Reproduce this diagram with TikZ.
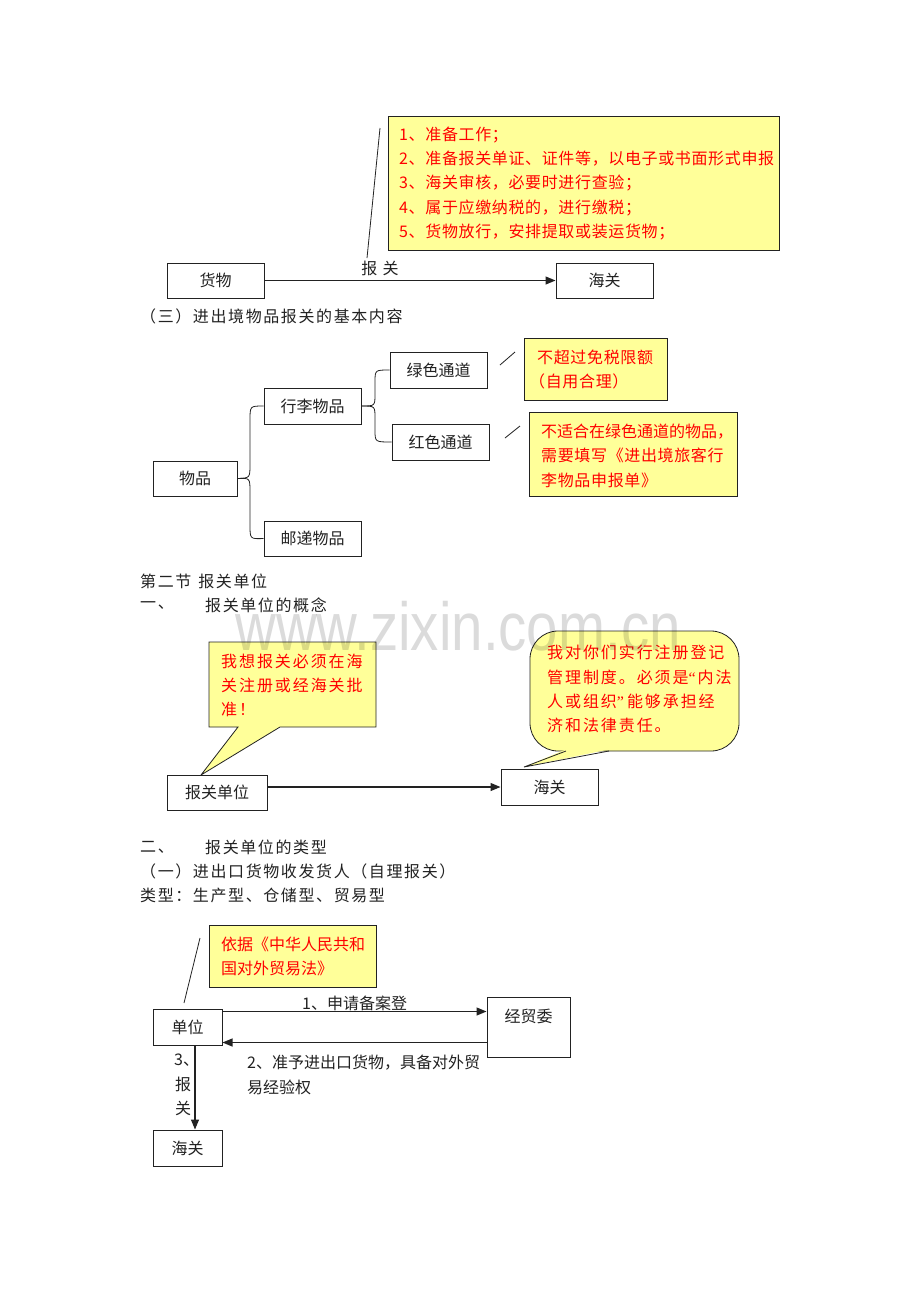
\documentclass[tikz,border=0pt]{standalone}
\usepackage{fontspec}
\setmainfont{Liberation Serif}
\newfontfamily\cjk{Noto Sans CJK SC}
\newfontfamily\cjkb{Noto Sans CJK SC}[LetterSpace=10]
\newfontfamily\cjkn{Noto Sans CJK SC}[LetterSpace=4]
\newfontfamily\cjkw{Noto Sans CJK SC}[LetterSpace=12]
\newfontfamily\qf{Liberation Serif}
\newfontfamily\wmfont{Liberation Sans}
\usetikzlibrary{arrows.meta,calc}
\definecolor{noteyellow}{HTML}{FFFF99}
\definecolor{notered}{HTML}{FF0000}
\definecolor{inkc}{HTML}{222222}
\begin{document}
\begin{tikzpicture}[x=1pt,y=-1pt,
  every node/.style={inner sep=0pt, text=inkc, font=\cjk\fontsize{16}{19}\selectfont},
  box/.style={draw=inkc, line width=1pt, fill=white},
  note/.style={draw=inkc, line width=0.8pt, fill=noteyellow},
  rtext/.style={anchor=west, text=notered},
  rntext/.style={anchor=west, text=notered, font=\cjkn\fontsize{16}{19}\selectfont},
  rwtext/.style={anchor=west, text=notered, font=\cjkw\fontsize{16}{19}\selectfont},
  btext/.style={anchor=west},
  htext/.style={anchor=west, font=\cjkb\fontsize{16}{19}\selectfont},
  arr/.style={draw=inkc, line width=1.2pt, -{Triangle[length=10pt,width=8pt]}},
  thin/.style={draw=inkc, line width=0.8pt}
]
\useasboundingbox[fill=white] (0,0) rectangle (920,1302);

% ---------- top section ----------
\node[note, minimum width=391pt, minimum height=134pt] (n1) at (583.5,183) {};
\node[rntext] (n1a) at (399,135) {1、准备工作；};
\node[rntext] (n1b) at (399,159) {2、准备报关单证、证件等，以电子或书面形式申报};
\node[rntext] (n1c) at (399,183) {3、海关审核，必要时进行查验；};
\node[rntext] (n1d) at (399,208) {4、属于应缴纳税的，进行缴税；};
\node[rntext] (n1e) at (399,232) {5、货物放行，安排提取或装运货物；};
\coordinate (l1a) at (380,128);
\coordinate (l1b) at (367,258);
\draw[thin] (l1a) -- (l1b);

\node[box, minimum width=97pt, minimum height=35pt] (goods) at (215.5,280.5) {货物};
\node[box, minimum width=97pt, minimum height=35pt] (cust1) at (604.5,280.5) {海关};
\draw[arr] (goods) -- (cust1);
\node (lbl1) at (380,268) {报\,\,关};

\node[htext] (t3) at (140,316) {（三）进出境物品报关的基本内容};

% ---------- branch section ----------
\node[box, minimum width=84pt, minimum height=35pt] (wp) at (195,478.5) {物品};
\node[box, minimum width=97pt, minimum height=36pt] (xl) at (312.5,406) {行李物品};
\node[box, minimum width=97pt, minimum height=35pt] (yd) at (312.5,538.5) {邮递物品};
\node[box, minimum width=97pt, minimum height=36pt] (lv) at (438.5,370) {绿色通道};
\node[box, minimum width=97pt, minimum height=36pt] (hs) at (440.5,442) {红色通道};

\draw[thin] (wp.east) .. controls (250,478) .. (250,464) -- (250,420) .. controls (250,406) .. (xl.west);
\draw[thin] (wp.east) .. controls (250,478) .. (250,492) -- (250,525) .. controls (250,539) .. (yd.west);
\draw[thin] (xl.east) .. controls (375,406) .. (375,394) -- (375,382) .. controls (375,370) .. (lv.west);
\draw[thin] (xl.east) .. controls (375,406) .. (375,418) -- (375,430) .. controls (375,442) .. (hs.west);

\node[note, minimum width=143pt, minimum height=62pt] (n2) at (595.5,369) {};
\node[rntext] (n2a) at (537,357) {不超过免税限额};
\node[rntext] (n2b) at (529,381) {（自用合理）};
\coordinate (s1a) at (500,365);
\coordinate (s1b) at (515,352);
\draw[thin] (s1a) -- (s1b);

\node[note, minimum width=208pt, minimum height=84pt] (n3) at (633,454) {};
\node[rtext] (n3a) at (541,432) {不适合在绿色通道的物品，};
\node[rntext] (n3b) at (541,455) {需要填写《进出境旅客行};
\node[rntext] (n3c) at (541,480) {李物品申报单》};
\coordinate (s2a) at (505,438);
\coordinate (s2b) at (520,426);
\draw[thin] (s2a) -- (s2b);

% ---------- section 2 ----------
\node[htext] (h2) at (140,581) {第二节\hspace{7pt}报关单位};
\node[htext] (h2a) at (140,605) {一、};
\node[htext] (h2b) at (205,605) {报关单位的概念};

\draw[note] (209,642) -- (376,642) -- (376,727) -- (280,727) -- (201,775) -- (238,727) -- (209,727) -- cycle;
\node[rwtext] (b1a) at (221,661) {我想报关必须在海};
\node[rwtext] (b1b) at (221,685) {关注册或经海关批};
\node[rwtext] (b1c) at (221,709) {准！};

\draw[note, rounded corners=28pt] (530,631) rectangle (739,751);
\fill[noteyellow] (566,749.4) -- (524,767) -- (609,749.4) -- (609,746) -- (566,746) -- cycle;
\draw[thin, line join=miter] (566,751) -- (524,767) -- (609,751);
\node[rwtext] (b2a) at (547,652) {我对你们实行注册登记};
\node[rwtext] (b2b) at (547,677) {管理制度。必须是{\qf “}\hspace{2pt}内法};
\node[rwtext] (b2c) at (547,701) {人或组织{\qf ”}\hspace{3pt}能够承担经};
\node[rwtext] (b2d) at (547,725) {济和法律责任。};

\node[anchor=base, text=black, opacity=0.14, xscale=0.83, font=\wmfont\fontsize{68}{72}\selectfont] (wm) at (458,650) {www.zixin.com.cn};

\node[box, minimum width=100pt, minimum height=35pt] (bgu) at (217,792.5) {报关单位};
\node[box, minimum width=97pt, minimum height=36pt] (cust2) at (549.5,787) {海关};
\draw[arr] (bgu.east |- cust2.west) -- (cust2.west);

% ---------- section 3 ----------
\node[htext] (h3a) at (140,847) {二、};
\node[htext] (h3b) at (205,847) {报关单位的类型};
\node[htext] (h3c) at (140,871) {（一）进出口货物收发货人（自理报关）};
\node[htext] (h3d) at (140,895) {类型：生产型、仓储型、贸易型};

\node[note, minimum width=167pt, minimum height=62pt] (n4) at (292.5,956) {};
\node[rtext] (n4a) at (221,944) {依据《中华人民共和};
\node[rtext] (n4b) at (221,968) {国对外贸易法》};
\coordinate (l4a) at (200,938);
\coordinate (l4b) at (184,1003);
\draw[thin] (l4a) -- (l4b);

\node[box, minimum width=69pt, minimum height=36pt] (dw) at (187.5,1027) {单位};
\node[box, minimum width=83pt, minimum height=60pt] (jmw) at (528.5,1027) {};
\node (jmwt) at (528.5,1016) {经贸委};
\draw[arr] ($(dw.north east)+(0,3)$) -- ($(jmw.west |- dw.north east)+(0,3)$);
\draw[arr] ($(jmw.west |- dw.south east)+(0,-3)$) -- ($(dw.south east)+(0,-3)$);
\node[btext] (a1) at (302,1003) {1、申请备案登};
\node[btext] (a2a) at (247,1063) {2、准予进出口货物，具备对外贸};
\node[btext] (a2b) at (247,1087) {易经验权};

\node[box, minimum width=69pt, minimum height=36pt] (hg) at (187.5,1148) {海关};
\draw[arr] ($(dw.south)+(7.5,0)$) -- ($(hg.north)+(7.5,0)$);
\node[btext] (a3a) at (174,1060) {3、};
\node[btext] (a3b) at (175,1084) {报};
\node[btext] (a3c) at (175,1108) {关};
\end{tikzpicture}
\end{document}
